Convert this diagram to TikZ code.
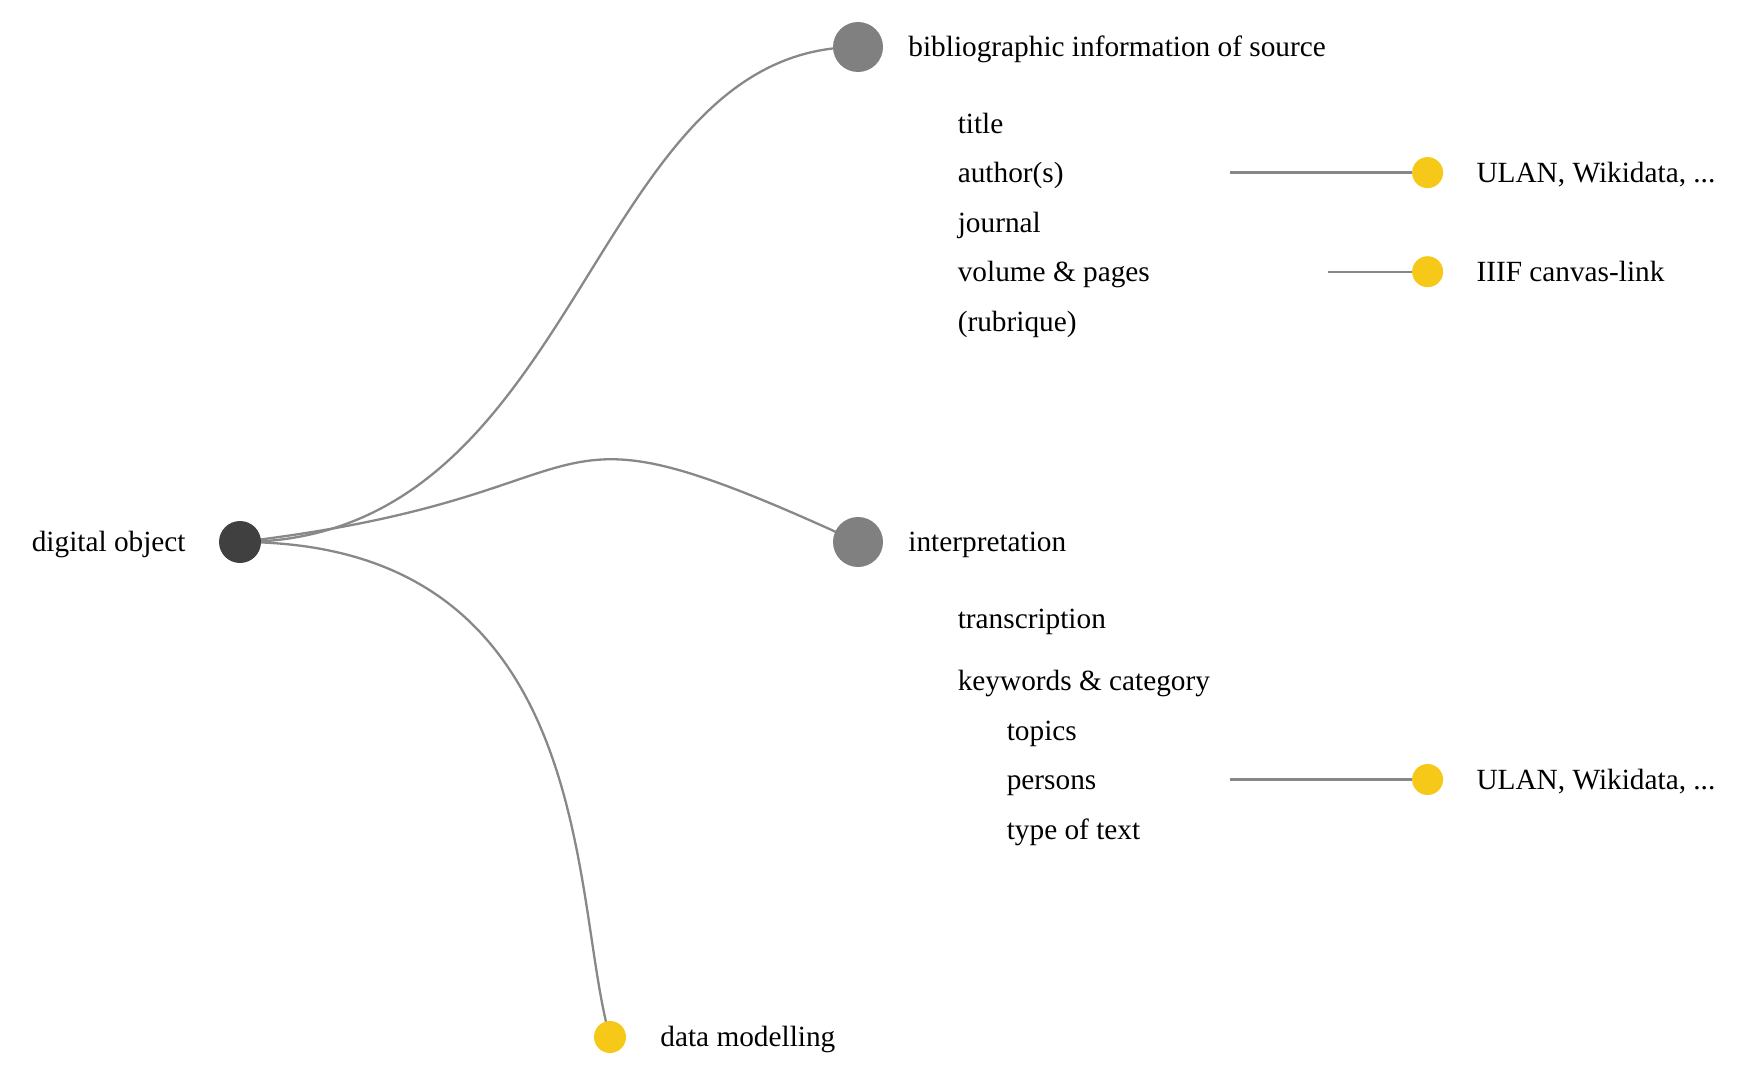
\documentclass[tikz,border=0pt]{standalone}
\usepackage{fontspec}
\setmainfont{Liberation Serif}
\usetikzlibrary{positioning,backgrounds}
\definecolor{rootgray}{RGB}{64,64,64}
\definecolor{branchgray}{RGB}{128,128,128}
\definecolor{linkgray}{RGB}{136,136,136}
\definecolor{leafyellow}{RGB}{246,201,24}

\begin{document}
\begin{tikzpicture}[x=1pt,y=-1pt,
    every node/.style={font=\fontsize{29.3}{35}\selectfont},
    dot/.style={circle, inner sep=0pt, minimum size=#1},
    txt/.style={inner sep=0pt, anchor=mid west, yshift=-7.5pt},
    link/.style={draw=linkgray, line width=2.3pt}]
    \useasboundingbox (0,0) rectangle (1746,1090);

    % Dots
    \node[dot=42pt, fill=rootgray] (root) at (240,542) {};
    \node[dot=50pt, fill=branchgray] (bib) at (858,47) {};
    \node[dot=50pt, fill=branchgray] (interp) at (858,542) {};
    \node[dot=32pt, fill=leafyellow] (model) at (610,1037) {};
    \node[dot=31pt, fill=leafyellow] (ulanA) at (1427.6,172.6) {};
    \node[dot=31pt, fill=leafyellow] (iiif) at (1427.6,271.7) {};
    \node[dot=31pt, fill=leafyellow] (ulanB) at (1427.6,779.5) {};

    % Main labels
    \node[txt, left=33pt of root, anchor=mid east] (rootlbl) {digital object};
    \node[txt, right=25pt of bib, anchor=mid west] (biblbl) {bibliographic information of source};
    \node[txt, right=25pt of interp, anchor=mid west] (interplbl) {interpretation};
    \node[txt, right=34pt of model, anchor=mid west] (modellbl) {data modelling};

    % Bibliographic fields
    \foreach \txt [count=\i] in {title, author(s), journal, {volume \& pages}, (rubrique)}
        \node[txt] (bibf\i) at (957.6,74.1+49.5*\i) {\txt};

    % Interpretation fields
    \node[txt] (transc) at (957.6,619.1) {transcription};
    \node[txt] (keyw) at (957.6,680.4) {keywords \& category};
    \foreach \txt [count=\i] in {topics, persons, type of text}
        \node[txt] (keyf\i) at (1006.6,680.9+49.6*\i) {\txt};

    % Authority links
    \coordinate (ulanAstart) at (1230,172.6);
    \coordinate (iiifstart) at (1328.4,271.7);
    \coordinate (ulanBstart) at (1230,779.5);
    \draw[link] (ulanAstart) -- (ulanA);
    \draw[link] (iiifstart) -- (iiif);
    \draw[link] (ulanBstart) -- (ulanB);
    \node[txt, right=33pt of ulanA, anchor=mid west] (ulanAlbl) {ULAN, Wikidata, ...};
    \node[txt, right=33pt of iiif, anchor=mid west] (iiiflbl) {IIIF canvas-link};
    \node[txt, right=33pt of ulanB, anchor=mid west] (ulanBlbl) {ULAN, Wikidata, ...};

    % Tree branches
    \begin{scope}[on background layer]
        \draw[link] (root.center) .. controls (585,542) and (585,47) .. (bib.center);
        \draw[link] (root.center) .. controls (640,495) and (510,382) .. (interp.center);
        \draw[link] (root.center) .. controls (600,542) and (570,900) .. (model.center);
    \end{scope}
\end{tikzpicture}
\end{document}
